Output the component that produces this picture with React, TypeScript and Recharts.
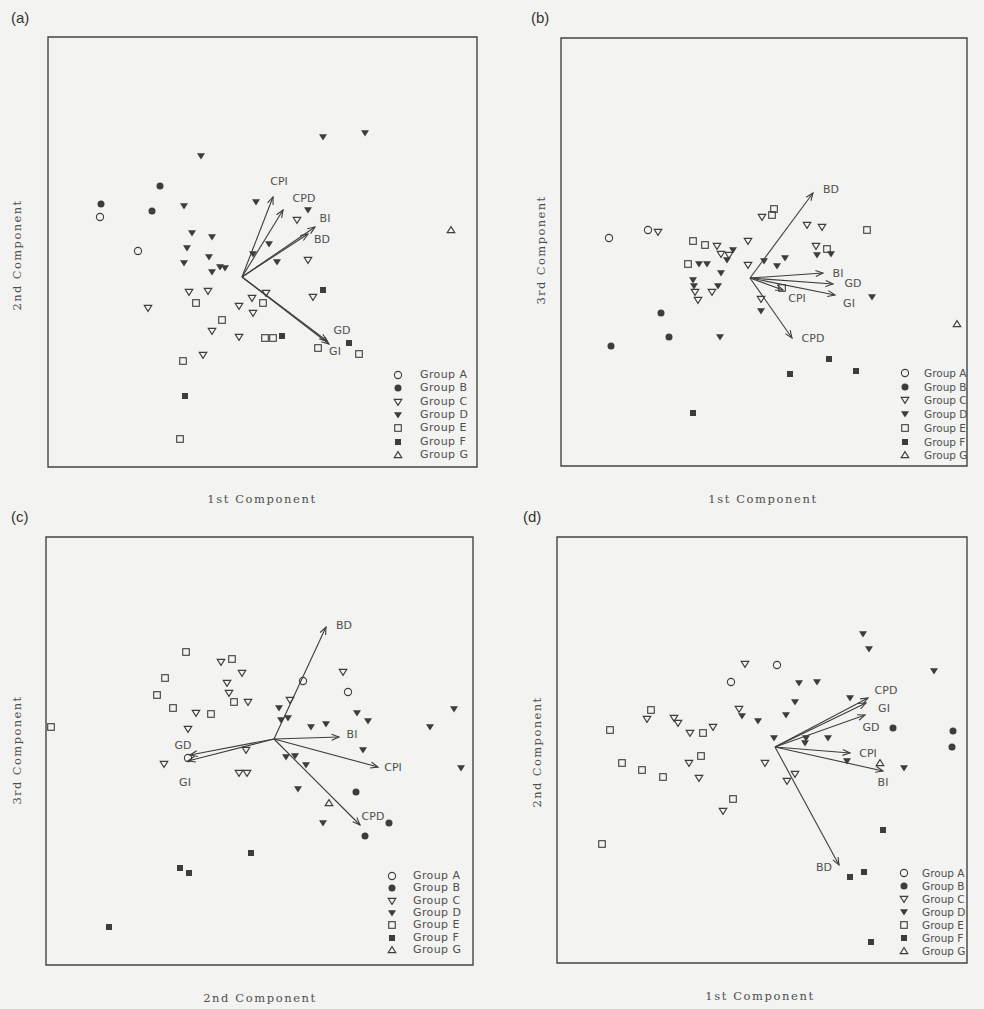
import React from 'react';
import { ScatterChart, Scatter, XAxis, YAxis, ReferenceLine, ReferenceArea } from 'recharts';

type P = [number, number];
type Arrow = [string, number, number];

const groupNames = ['A', 'B', 'C', 'D', 'E', 'F', 'G'];

// ---------- Panel (a): 1st vs 2nd component ----------
const aXDomain = [-19.4, 23.5];
const aYDomain = [-19.0, 24.0];
const aGroupA: P[] = [[-14.2, 6.0], [-10.4, 2.6]];
const aGroupB: P[] = [[-8.2, 9.1], [-14.1, 7.3], [-9.0, 6.6]];
const aGroupC: P[] = [[5.5, 5.7], [6.6, 1.7], [-5.3, -1.5], [-3.4, -1.4], [2.4, -1.6], [-9.4, -3.1], [-0.3, -2.9], [1.0, -2.1], [1.1, -3.6], [7.1, -2.0], [-3.0, -5.4], [-0.3, -6.0], [-3.9, -7.8]];
const aGroupD: P[] = [[8.1, 14.0], [12.3, 14.4], [-4.1, 12.1], [-5.8, 7.1], [1.4, 7.5], [6.6, 6.7], [-5.0, 4.4], [-3.0, 4.0], [-5.5, 2.9], [2.7, 3.3], [-3.3, 2.0], [-5.8, 1.4], [-2.2, 1.0], [-1.7, 0.9], [-3.0, 0.5], [1.1, 2.3], [3.5, 1.5]];
const aGroupE: P[] = [[-4.6, -2.6], [2.1, -2.6], [-2.0, -4.3], [2.3, -6.1], [3.1, -6.1], [7.6, -7.1], [11.7, -7.7], [-5.9, -8.4], [-6.2, -16.2]];
const aGroupF: P[] = [[8.1, -1.3], [4.0, -5.9], [10.7, -6.6], [-5.7, -11.9]];
const aGroupG: P[] = [[20.9, 4.7]];
const aArrows: Arrow[] = [['CPI', 3.1, 8.0], ['CPD', 4.1, 6.7], ['BI', 7.3, 5.0], ['BD', 6.6, 4.3], ['GD', 8.5, -6.4], ['GI', 8.7, -6.7]];

// ---------- Panel (b): 1st vs 3rd component ----------
const bXDomain = [-18.9, 21.7];
const bYDomain = [-18.8, 24.0];
const bGroupA: P[] = [[-14.1, 4.0], [-10.2, 4.8]];
const bGroupB: P[] = [[-8.9, -3.5], [-8.1, -5.9], [-13.9, -6.8]];
const bGroupC: P[] = [[-9.2, 4.6], [-3.3, 3.2], [-0.2, 3.7], [1.2, 6.1], [5.7, 5.3], [7.2, 5.1], [6.6, 3.2], [-2.9, 2.4], [-2.1, 2.3], [-0.2, 1.3], [-5.5, -1.4], [-5.2, -2.2], [-3.8, -1.4], [1.1, -2.1]];
const bGroupD: P[] = [[-1.7, 2.8], [-2.3, 1.8], [6.7, 2.3], [8.1, 2.4], [-5.1, 1.4], [-4.3, 1.4], [1.4, 1.7], [2.7, 1.2], [3.5, 2.0], [-2.9, 0.5], [-5.7, -0.2], [-5.6, -0.8], [-3.2, -0.8], [1.1, -3.3], [-3.0, -5.9], [12.2, -1.9]];
const bGroupE: P[] = [[-5.7, 3.7], [-4.5, 3.3], [2.2, 6.3], [2.4, 6.9], [11.7, 4.8], [7.7, 2.9], [-6.2, 1.4], [3.2, -1.0]];
const bGroupF: P[] = [[7.9, -8.1], [10.6, -9.3], [4.0, -9.6], [-5.7, -13.5]];
const bGroupG: P[] = [[20.7, -4.6]];
const bArrows: Arrow[] = [['BD', 6.3, 8.5], ['BI', 7.3, 0.5], ['GD', 8.3, -0.6], ['GI', 8.5, -1.7], ['CPI', 3.3, -1.2], ['CPD', 4.2, -6.0]];

// ---------- Panel (c): 2nd vs 3rd component ----------
const cXDomain = [-22.8, 19.9];
const cYDomain = [-22.6, 20.2];
const cGroupA: P[] = [[2.9, 5.8], [7.4, 4.7], [-8.6, -1.9]];
const cGroupB: P[] = [[8.2, -5.3], [11.5, -8.4], [9.1, -9.7]];
const cGroupC: P[] = [[-5.3, 7.7], [-3.2, 6.6], [-4.7, 5.6], [6.9, 6.7], [-4.5, 4.6], [-2.6, 3.7], [1.6, 3.9], [-7.8, 2.6], [-8.6, 1.0], [-2.8, -1.1], [-11.0, -2.5], [-3.5, -3.4], [-2.7, -3.4]];
const cGroupD: P[] = [[0.5, 3.1], [0.7, 1.9], [1.4, 2.1], [8.3, 2.6], [9.4, 1.8], [18.0, 3.0], [15.6, 1.2], [3.7, 1.2], [5.2, 1.5], [8.9, -1.1], [1.2, -1.8], [2.1, -1.7], [3.2, -2.6], [18.7, -2.9], [2.4, -5.0], [4.9, -8.4]];
const cGroupE: P[] = [[-8.8, 8.7], [-4.2, 8.0], [-10.9, 6.1], [-11.7, 4.4], [-4.0, 3.7], [-10.1, 3.1], [-6.3, 2.5], [-22.3, 1.2]];
const cGroupF: P[] = [[-2.3, -11.4], [-9.4, -12.9], [-8.5, -13.4], [-16.5, -18.8]];
const cGroupG: P[] = [[5.5, -6.4]];
const cArrows: Arrow[] = [['BD', 5.2, 11.2], ['BI', 6.5, 0.2], ['GD', -8.4, -1.6], ['GI', -8.6, -2.2], ['CPI', 10.4, -2.8], ['CPD', 8.6, -8.6]];

// ---------- Panel (d): 1st vs 2nd component ----------
const dXDomain = [-21.8, 19.2];
const dYDomain = [-21.6, 21.0];
const dGroupA: P[] = [[0.2, 8.2], [-4.4, 6.5]];
const dGroupB: P[] = [[11.8, 1.9], [17.8, 1.6], [17.7, 0.0]];
const dGroupC: P[] = [[-3.0, 8.3], [-3.6, 3.8], [-12.8, 2.8], [-10.1, 2.9], [-9.7, 2.4], [-8.5, 1.4], [-6.2, 2.0], [-8.6, -1.6], [-7.6, -3.1], [-1.0, -1.6], [2.0, -2.7], [1.2, -3.4], [-5.2, -6.4]];
const dGroupD: P[] = [[8.8, 11.3], [9.4, 9.8], [15.9, 7.6], [2.4, 6.4], [4.2, 6.5], [2.0, 4.5], [-3.3, 3.1], [-1.7, 2.6], [1.1, 3.2], [7.5, 4.9], [-0.1, 0.9], [3.1, 0.9], [3.0, 0.4], [5.3, 0.9], [7.2, -1.4], [12.9, -2.1]];
const dGroupE: P[] = [[-12.4, 3.7], [-16.5, 1.7], [-7.2, 1.4], [-15.3, -1.6], [-13.3, -2.3], [-11.2, -3.0], [-7.4, -0.9], [-4.2, -5.2], [-17.3, -9.7]];
const dGroupF: P[] = [[10.8, -8.3], [7.5, -13.0], [8.9, -12.5], [9.6, -19.5]];
const dGroupG: P[] = [[10.5, -1.6]];
const dArrows: Arrow[] = [['CPD', 9.3, 4.9], ['GI', 9.1, 4.4], ['GD', 9.0, 3.2], ['CPI', 7.5, -0.6], ['BI', 10.8, -2.4], ['BD', 6.4, -11.8]];

// ---------- layout / style (kept apart from the data) ----------
const INK = '#3d3d3d';
const TEXT = '#4f4f4f';
const BG = '#f3f3f1';

const layouts: Record<string, any> = {
  a: {
    frame: { left: 48, top: 37, right: 477, bottom: 467 },
    legend: { symX: 398, textX: 420, rowY0: 375, rowH: 13.3, fontSize: 11, spacing: 0.4 },
    offsets: { CPI: [6, -16], CPD: [21, -12], BI: [10, -9], BD: [14, 5], GD: [15, -11], GI: [6, 7] },
    xTitle: { text: '1st Component', x: 262, y: 499 },
    yTitle: { text: '2nd Component', x: 17, y: 255 },
    tag: { text: '(a)', x: 11, y: 9 },
  },
  b: {
    frame: { left: 561, top: 38, right: 967, bottom: 466 },
    legend: { symX: 905, textX: 924, rowY0: 373, rowH: 13.7, fontSize: 10.5, spacing: 0 },
    offsets: { BD: [18, -4], BI: [15, 0], GD: [20, -1], GI: [14, 8], CPI: [14, 8], CPD: [21, 0] },
    xTitle: { text: '1st Component', x: 763, y: 499 },
    yTitle: { text: '3rd Component', x: 541, y: 250 },
    tag: { text: '(b)', x: 531, y: 9 },
  },
  c: {
    frame: { left: 46, top: 537, right: 473, bottom: 965 },
    legend: { symX: 392, textX: 413, rowY0: 876, rowH: 12.3, fontSize: 11, spacing: 0.4 },
    offsets: { BD: [18, -2], BI: [13, -3], GD: [-7, -10], GI: [-3, 21], CPI: [15, 0], CPD: [13, -9] },
    xTitle: { text: '2nd Component', x: 260, y: 998 },
    yTitle: { text: '3rd Component', x: 17, y: 750 },
    tag: { text: '(c)', x: 11, y: 508 },
  },
  d: {
    frame: { left: 557, top: 537, right: 967, bottom: 963 },
    legend: { symX: 904, textX: 922, rowY0: 873, rowH: 13, fontSize: 10.5, spacing: 0 },
    offsets: { CPD: [18, -8], GI: [18, 5], GD: [6, 12], CPI: [18, 0], BI: [0, 11], BD: [-15, 2] },
    xTitle: { text: '1st Component', x: 760, y: 996 },
    yTitle: { text: '2nd Component', x: 537, y: 752 },
    tag: { text: '(d)', x: 523, y: 508 },
  },
};

const panels = [
  { id: 'a', xDomain: aXDomain, yDomain: aYDomain, groups: [aGroupA, aGroupB, aGroupC, aGroupD, aGroupE, aGroupF, aGroupG], arrows: aArrows },
  { id: 'b', xDomain: bXDomain, yDomain: bYDomain, groups: [bGroupA, bGroupB, bGroupC, bGroupD, bGroupE, bGroupF, bGroupG], arrows: bArrows },
  { id: 'c', xDomain: cXDomain, yDomain: cYDomain, groups: [cGroupA, cGroupB, cGroupC, cGroupD, cGroupE, cGroupF, cGroupG], arrows: cArrows },
  { id: 'd', xDomain: dXDomain, yDomain: dYDomain, groups: [dGroupA, dGroupB, dGroupC, dGroupD, dGroupE, dGroupF, dGroupG], arrows: dArrows },
];

function Marker({ cx, cy, kind, color }: { cx: number; cy: number; kind: string; color: string }) {
  if (cx == null || cy == null) return null;
  switch (kind) {
    case 'A':
      return <circle cx={cx} cy={cy} r={3.6} fill="none" stroke={color} strokeWidth={1.1} />;
    case 'B':
      return <circle cx={cx} cy={cy} r={3.5} fill={color} />;
    case 'C':
      return <polygon points={`${cx - 3.8},${cy - 2.6} ${cx + 3.8},${cy - 2.6} ${cx},${cy + 3.4}`} fill="none" stroke={color} strokeWidth={1.1} />;
    case 'D':
      return <polygon points={`${cx - 4},${cy - 2.8} ${cx + 4},${cy - 2.8} ${cx},${cy + 3.6}`} fill={color} />;
    case 'E':
      return <rect x={cx - 3.3} y={cy - 3.3} width={6.6} height={6.6} fill="none" stroke={color} strokeWidth={1.1} />;
    case 'F':
      return <rect x={cx - 3} y={cy - 3} width={6} height={6} fill={color} />;
    default:
      return <polygon points={`${cx - 3.8},${cy + 2.6} ${cx + 3.8},${cy + 2.6} ${cx},${cy - 3.4}`} fill="none" stroke={color} strokeWidth={1.1} />;
  }
}

function arrowShape(name: string, off: number[]) {
  return (p: any) => {
    const { x1, y1, x2, y2 } = p;
    if ([x1, y1, x2, y2].some((v) => v == null || isNaN(v))) return <g />;
    const ang = Math.atan2(y2 - y1, x2 - x1);
    const L = 8;
    const w = 0.38;
    const hx1 = x2 - L * Math.cos(ang - w);
    const hy1 = y2 - L * Math.sin(ang - w);
    const hx2 = x2 - L * Math.cos(ang + w);
    const hy2 = y2 - L * Math.sin(ang + w);
    return (
      <g>
        <line x1={x1} y1={y1} x2={x2} y2={y2} stroke={INK} strokeWidth={1.1} />
        <polyline points={`${hx1},${hy1} ${x2},${y2} ${hx2},${hy2}`} fill="none" stroke={INK} strokeWidth={1.1} />
        <text x={x2 + off[0]} y={y2 + off[1]} textAnchor="middle" dominantBaseline="central" fontFamily="DejaVu Sans, sans-serif" fontSize={11} fill={TEXT}>
          {name}
        </text>
      </g>
    );
  };
}

function Panel({ panel }: { panel: any }) {
  const lay = layouts[panel.id];
  const { frame, legend, offsets } = lay;
  const pad = 2;
  const w = frame.right - frame.left + 2 * pad;
  const h = frame.bottom - frame.top + 2 * pad;
  return (
    <>
      <div style={{ position: 'absolute', left: frame.left - pad, top: frame.top - pad }}>
        <ScatterChart width={w} height={h} margin={{ top: pad, right: pad, bottom: pad, left: pad }}>
          <XAxis type="number" dataKey="x" domain={panel.xDomain} hide allowDataOverflow />
          <YAxis type="number" dataKey="y" domain={panel.yDomain} hide allowDataOverflow />
          <ReferenceArea
            x1={panel.xDomain[0]}
            x2={panel.xDomain[1]}
            y1={panel.yDomain[0]}
            y2={panel.yDomain[1]}
            fill="none"
            fillOpacity={0}
            stroke="#444"
            strokeWidth={1.4}
            ifOverflow="visible"
          />
          {panel.arrows.map(([name, x, y]: Arrow) => (
            <ReferenceLine
              key={name}
              segment={[{ x: 0, y: 0 }, { x, y }]}
              stroke={INK}
              ifOverflow="visible"
              shape={arrowShape(name, offsets[name])}
            />
          ))}
          {panel.groups.map((g: P[], i: number) => (
            <Scatter
              key={groupNames[i]}
              name={`Group ${groupNames[i]}`}
              data={g.map(([x, y]) => ({ x, y }))}
              isAnimationActive={false}
              shape={(sp: any) => <Marker cx={sp.cx} cy={sp.cy} kind={groupNames[i]} color={INK} />}
            />
          ))}
        </ScatterChart>
      </div>
      {groupNames.map((n, i) => {
        const cy = legend.rowY0 + i * legend.rowH;
        return (
          <React.Fragment key={n}>
            <svg width={12} height={12} style={{ position: 'absolute', left: legend.symX - 6, top: cy - 6 }}>
              <Marker cx={6} cy={6} kind={n} color={INK} />
            </svg>
            <div
              style={{
                position: 'absolute',
                left: legend.textX,
                top: cy - 7,
                height: 14,
                lineHeight: '14px',
                fontFamily: 'DejaVu Sans, sans-serif',
                fontSize: legend.fontSize,
                letterSpacing: legend.spacing,
                color: TEXT,
                whiteSpace: 'nowrap',
              }}
            >
              {`Group ${n}`}
            </div>
          </React.Fragment>
        );
      })}
      <div
        style={{
          position: 'absolute',
          left: lay.xTitle.x,
          top: lay.xTitle.y,
          transform: 'translate(-50%, -50%)',
          fontFamily: 'DejaVu Serif, serif',
          fontSize: 11.5,
          letterSpacing: 1.6,
          color: TEXT,
          whiteSpace: 'nowrap',
        }}
      >
        {lay.xTitle.text}
      </div>
      <div
        style={{
          position: 'absolute',
          left: lay.yTitle.x,
          top: lay.yTitle.y,
          transform: 'translate(-50%, -50%) rotate(-90deg)',
          fontFamily: 'DejaVu Serif, serif',
          fontSize: 11.5,
          letterSpacing: 1.4,
          color: TEXT,
          whiteSpace: 'nowrap',
        }}
      >
        {lay.yTitle.text}
      </div>
      <div
        style={{
          position: 'absolute',
          left: lay.tag.x,
          top: lay.tag.y,
          fontFamily: 'Liberation Sans, Arial, sans-serif',
          fontSize: 15,
          color: '#333',
          lineHeight: '18px',
        }}
      >
        {lay.tag.text}
      </div>
    </>
  );
}

export default function App() {
  return (
    <div style={{ position: 'absolute', left: 0, top: 0, width: 984, height: 1009, background: BG, overflow: 'hidden' }}>
      {panels.map((p) => (
        <Panel key={p.id} panel={p} />
      ))}
    </div>
  );
}
